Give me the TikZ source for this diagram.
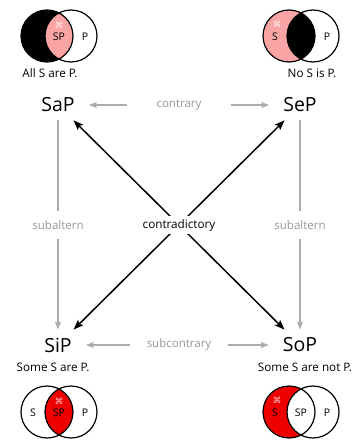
\documentclass[tikz,border=0pt]{standalone}
\usepackage{fontspec}
\setmainfont{Open Sans}
\newfontfamily\symfont{DejaVu Sans}
\usepackage{xcolor}
\usepackage{tikz}
\usetikzlibrary{arrows.meta}
\definecolor{vennpink}{RGB}{250,165,165}
\definecolor{vennred}{RGB}{238,0,0}
\definecolor{relgray}{RGB}{172,172,172}
\definecolor{reltext}{RGB}{150,150,150}
\newcommand{\venn}[5]{%
  \fill[#4] (#2-12,#3) circle (26);
  \begin{scope}
    \clip (#2-12,#3) circle (26);
    \fill[#5] (#2+12,#3) circle (26);
  \end{scope}
  \draw[vennline] (#2-12,#3) circle (26) (#2+12,#3) circle (26);
  \node[venntext] (#1-s) at (#2-26,#3+1) {S};
  \node[venntext] (#1-sp) at (#2,#3+1) {SP};
  \node[venntext] (#1-p) at (#2+26,#3+1) {P};
}

\begin{document}
\begin{tikzpicture}[
  x=1pt, y=-1pt,
  term/.style={font=\fontsize{19.5}{22}\selectfont, inner xsep=14pt, inner ysep=8pt},
  caption/.style={font=\fontsize{11.7}{13}\selectfont, inner sep=0pt},
  rel/.style={font=\fontsize{11.5}{13}\selectfont, text=reltext, inner sep=0pt},
  venntext/.style={font=\fontsize{10.5}{12}\selectfont, inner sep=0pt},
  vennline/.style={line width=1.2pt},
  sym/.style={font=\symfont\fontsize{8.5}{9}\selectfont, text=white, opacity=0.8, inner sep=0pt},
  grayarr/.style={-{Stealth[length=8pt, width=6pt, inset=1.5pt]}, line width=1.4pt, draw=relgray},
  blackarr/.style={{Stealth[length=10pt, width=7.5pt, inset=2pt]}-{Stealth[length=10pt, width=7.5pt, inset=2pt]}, line width=1.5pt}
]
  \useasboundingbox (0,0) rectangle (354,441);

  \venn{sap}{59}{36}{black}{vennpink}
  \venn{sep}{301}{36}{vennpink}{black}
  \venn{sip}{59}{412}{white}{vennred}
  \venn{sop}{301}{412}{vennred}{white}
  \node[sym] (sap-x) at (59,25) {⌘};
  \node[sym] (sep-x) at (277,24) {⌘};
  \node[sym] (sip-x) at (59,401) {⌘};
  \node[sym] (sop-x) at (277,400) {⌘};

  \node[caption] (all) at (50,73) {All S are P.};
  \node[caption] (no) at (312,73) {No S is P.};
  \node[caption] (some) at (53,367) {Some S are P.};
  \node[caption] (somenot) at (305,367) {Some S are not P.};

  \node[term] (SaP) at (58,105) {SaP};
  \node[term] (SeP) at (300,105) {SeP};
  \node[term] (SiP) at (58,345) {SiP};
  \node[term] (SoP) at (300,345) {SoP};

  \node[rel] (contrary) at (179,105) {contrary};
  \node[rel] (subcontrary) at (179,345) {subcontrary};
  \node[rel] (subalternL) at (58,225) {subaltern};
  \node[rel] (subalternR) at (300,225) {subaltern};

  \draw[grayarr, shorten <=29pt] (contrary) -- (SaP);
  \draw[grayarr, shorten <=29pt] (contrary) -- (SeP);
  \draw[grayarr, shorten <=17pt] (subcontrary) -- (SiP);
  \draw[grayarr, shorten <=17pt] (subcontrary) -- (SoP);
  \draw[relgray, line width=1.4pt, shorten >=9pt] (SaP) -- (subalternL);
  \draw[grayarr, shorten <=9pt] (subalternL) -- (SiP);
  \draw[relgray, line width=1.4pt, shorten >=9pt] (SeP) -- (subalternR);
  \draw[grayarr, shorten <=9pt] (subalternR) -- (SoP);

  \draw[blackarr] (SaP) -- (SoP);
  \draw[blackarr] (SeP) -- (SiP);
  \node[font=\fontsize{11.7}{13}\selectfont, fill=white, inner xsep=1pt, inner ysep=3pt] (contradictory) at (179,225) {contradictory};
\end{tikzpicture}
\end{document}
